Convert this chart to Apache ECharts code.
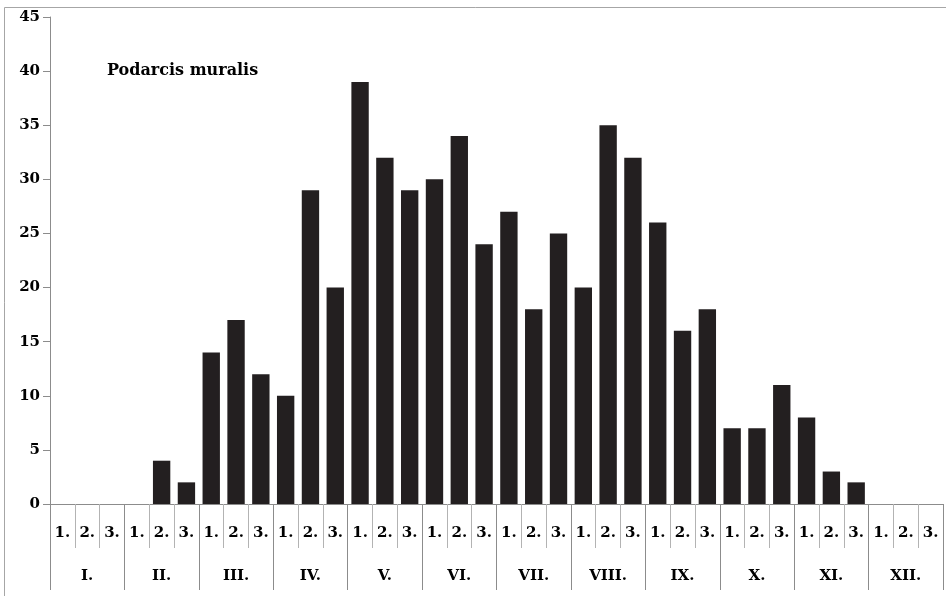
<!DOCTYPE html>
<html>
<head>
<meta charset="utf-8">
<script src="https://cdn.jsdelivr.net/npm/echarts@6/dist/echarts.min.js"></script>
<style>
  html, body { margin: 0; padding: 0; background: #fff; }
  #chart { width: 946px; height: 596px; }
</style>
</head>
<body>
<div id="chart"></div>
<script>
const months = ["I.", "II.", "III.", "IV.", "V.", "VI.", "VII.", "VIII.", "IX.", "X.", "XI.", "XII."];
const decades = [];
months.forEach(() => decades.push("1.", "2.", "3."));
const counts = [
  0, 0, 0,
  0, 4, 2,
  14, 17, 12,
  10, 29, 20,
  39, 32, 29,
  30, 34, 24,
  27, 18, 25,
  20, 35, 32,
  26, 16, 18,
  7, 7, 11,
  8, 3, 2,
  0, 0, 0
];
const yTicks = { min: 0, max: 45, interval: 5 };

const font = "DejaVu Serif";
const chart = echarts.init(document.getElementById("chart"));

chart.setOption({
  animation: false,
  graphic: [{
    type: "rect",
    shape: { x: 4.5, y: 7.5, width: 960, height: 620 },
    style: { fill: "none", stroke: "#a6a6a6", lineWidth: 1 },
    silent: true
  }, {
    type: "text",
    left: 107, top: 63,
    style: { text: "Podarcis muralis", font: "bold 16px " + font, fill: "#000" }
  }],
  grid: { left: 50, right: 3, top: 17, bottom: 92 },
  xAxis: [{
    type: "category",
    data: decades,
    axisLine: { lineStyle: { color: "#8c8c8c" } },
    axisTick: { show: true, length: 44, interval: 0, lineStyle: { color: "#b3b3b3" } },
    axisLabel: { interval: 0, margin: 22, fontFamily: font, fontWeight: "bold", fontSize: 15, color: "#000" }
  }, {
    type: "category",
    data: months,
    position: "bottom",
    axisLine: { show: false },
    axisTick: { show: true, length: 86, interval: 0, lineStyle: { color: "#8c8c8c" } },
    axisLabel: { interval: 0, margin: 65, fontFamily: font, fontWeight: "bold", fontSize: 15, color: "#000" }
  }],
  yAxis: {
    type: "value",
    min: yTicks.min, max: yTicks.max, interval: yTicks.interval,
    splitLine: { show: false },
    axisLine: { show: true, lineStyle: { color: "#8c8c8c" } },
    axisTick: { show: true, length: 7, lineStyle: { color: "#8c8c8c" } },
    axisLabel: { margin: 10, fontFamily: font, fontWeight: "bold", fontSize: 15, color: "#000" }
  },
  series: [{
    type: "bar",
    data: counts,
    barCategoryGap: "30%",
    itemStyle: { color: "#231f20" }
  }]
});
</script>
</body>
</html>
